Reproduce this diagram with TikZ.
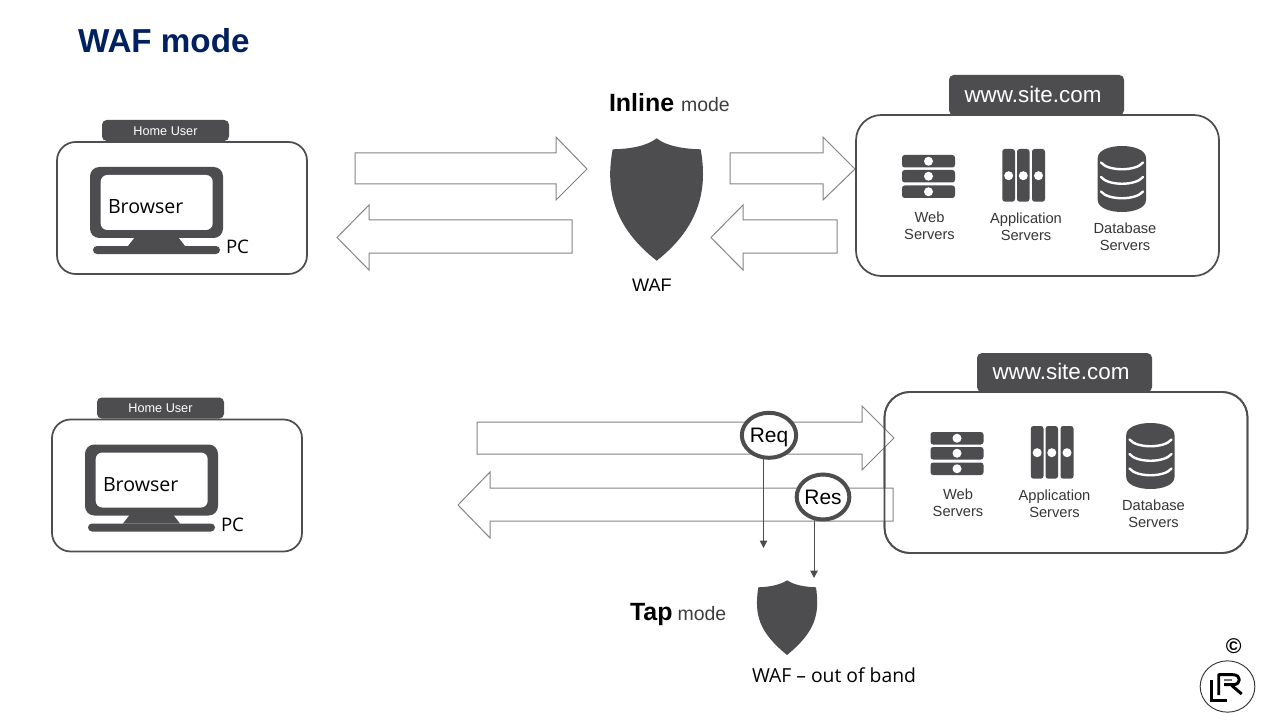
\documentclass[tikz,border=0pt]{standalone}
\usepackage{fontspec}
\setmainfont{Liberation Sans}
\newfontfamily\osans{Open Sans}
\usetikzlibrary{arrows.meta,shapes.geometric}
\definecolor{ink}{HTML}{4D4D4F}
\definecolor{blockedge}{HTML}{858585}
\definecolor{navy}{HTML}{002060}
\newcommand{\fs}[1]{\fontsize{#1}{#1}\selectfont}
\tikzset{
  x=0.75pt,y=-0.75pt,
  every node/.style={inner sep=0pt,outer sep=0pt},
  groupbox/.style={draw=ink,line width=1.3pt,fill=white,rounded corners=14pt},
  serverbox/.style={draw=ink,line width=1.3pt,rounded corners=19pt},
  tagbox/.style={fill=ink,rounded corners=3.5pt,anchor=center},
  blockarrow/.style={draw=blockedge,line width=0.75pt,fill=white,line join=miter},
  icontext/.style={align=center,font=\fontsize{11}{12.75}\selectfont,text=ink!70!black},
  lead/.style={draw=ink,line width=0.75pt,-{Triangle[length=5.5pt,width=5.5pt]}},
  tapcircle/.style={ellipse,draw=ink,fill=white,line width=3pt,minimum width=35.8pt,minimum height=33.75pt,font=\fs{15.7}},
  pcgroup/.pic={
    \draw[groupbox] (57,142) rectangle (307,274);
    \node[tagbox,minimum width=95.25pt,minimum height=15.75pt] (-tag) at (165.5,130.5) {};
    \node[font=\fs{9.5},text=white] (-tagtext) at (165.5,131) {Home User};
    \fill[ink,rounded corners=7pt] (90,167) rectangle (223,238);
    \fill[white,rounded corners=5pt] (100.7,175) rectangle (212.7,230);
    \fill[ink] (135,237) -- (178,237) -- (185,246) -- (128,246) -- cycle;
    \fill[ink,rounded corners=3pt] (93,246) rectangle (220,254);
    \node[anchor=west,font=\osans\fs{14.7}] (-browser) at (108,207) {Browser};
    \node[anchor=west,font=\osans\fs{14}] (-pc) at (226,247) {PC};
  },
  servergroup/.pic={
    \draw[groupbox,rounded corners=19pt] (856,115) rectangle (1219,276);
    \foreach \ya/\yb in {155/167.5,170/182.5,185.5/198}{
      \fill[ink,rounded corners=2pt] (902,\ya) rectangle (955,\yb);
      \fill[white] (928.5,{(\ya+\yb)/2}) circle (4.5);
    }
    \foreach \xa/\xb in {1002.3/1015,1017/1029.5,1032/1045}{
      \fill[ink,rounded corners=2pt] (\xa,149) rectangle (\xb,201.7);
      \fill[white] ({(\xa+\xb)/2},175.7) circle (4.5);
    }
    \fill[ink] (1097.7,158) .. controls (1097.7,150) and (1110,146) .. (1122,146)
      .. controls (1134,146) and (1146,150) .. (1146,158) -- (1146,200)
      .. controls (1146,208) and (1134,212) .. (1122,212)
      .. controls (1110,212) and (1097.7,208) .. (1097.7,200) -- cycle;
    \foreach \yy in {162.5,177,191.5}{
      \draw[white,line width=1.8pt,line cap=round] (1101,\yy) .. controls (1108,{\yy+9}) and (1136,{\yy+9}) .. (1143,\yy);
    }
    \node[icontext] (-web) at (929.5,225.5) {Web\\Servers};
    \node[icontext] (-app) at (1026,226.5) {Application\\Servers};
    \node[icontext] (-db) at (1125,236.5) {Database\\Servers};
  },
  shieldbig/.pic={
    \fill[ink] (656.7,138.3) .. controls (666,146) and (684,149) .. (700.7,149.3)
      .. controls (706,180) and (706,222) .. (656.7,260.7)
      .. controls (607,222) and (607,180) .. (612.7,149.3)
      .. controls (630,149) and (647,146) .. (656.7,138.3) -- cycle;
  },
  shieldsmall/.pic={
    \fill[ink] (787,580.3) .. controls (794,585) and (805,587) .. (816,587.3)
      .. controls (820,615) and (815,632) .. (787,655)
      .. controls (759,632) and (754,615) .. (758.3,587.3)
      .. controls (769,587) and (780,585) .. (787,580.3) -- cycle;
  },
}
\begin{document}
\begin{tikzpicture}
\useasboundingbox (0,0) rectangle (1280,720);
\fill[white] (0,0) rectangle (1280,720);
\node[anchor=west,text=navy,font=\bfseries\fs{24.9}] (title) at (78,40.5) {WAF mode};

% inline row
\draw[blockarrow] (355,153)--(556,153)--(556,137)--(587,169)--(556,200)--(556,184)--(355,184)--cycle;
\draw[blockarrow] (572,220)--(369,220)--(369,205)--(337,237.5)--(369,270)--(369,253)--(572,253)--cycle;
\draw[blockarrow] (730,153)--(823,153)--(823,137)--(855,169)--(823,200)--(823,184)--(730,184)--cycle;
\draw[blockarrow] (837,220)--(743,220)--(743,205)--(711,237.5)--(743,270)--(743,253)--(837,253)--cycle;
\pic (pc1) at (0,0) {pcgroup};
\pic (srv1) at (0,0) {servergroup};
\node[tagbox,minimum width=131.25pt,minimum height=30pt] (site1) at (1036.5,95) {};
\node[font=\fs{16.8},text=white] (site1text) at (1033,94) {www.site.com};
\pic at (0,0) {shieldbig};
\node[anchor=base west] (inline) at (609,112) {\bfseries\fs{18.7}Inline\ \fs{14.6}\mdseries\color{ink!80!black}mode};
\node[font=\fs{13.6}] (waf) at (652,285.5) {WAF};

% tap row
\pic (pc2) at (-5,277.5) {pcgroup};
\pic (srv2) at (28.5,277) {servergroup};
\draw[blockarrow] (477,422)--(862,422)--(862,406)--(894,438)--(862,470)--(862,454)--(477,454)--cycle;
\draw[blockarrow] (893,488)--(490,488)--(490,472)--(458,505)--(490,538)--(490,521)--(893,521)--cycle;
\begin{scope}[shift={(28.5,277)}]
\draw[serverbox] (856,115) rectangle (1219,276);
\end{scope}
\node[tagbox,minimum width=131.25pt,minimum height=29pt] (site2) at (1064.5,372.5) {};
\node[font=\fs{16.8},text=white] (site2text) at (1061,371) {www.site.com};
\node[tapcircle,text depth=0pt] (req) at (769,435.3) {Req};
\node[tapcircle] (res) at (823,497) {Res};
\coordinate (reqend) at (763.3,548);
\coordinate (resend) at (813.3,578);
\draw[lead] (req.-104) -- (req.-104 |- reqend);
\draw[lead] (res.-113) -- (res.-113 |- resend);
\pic at (0,0) {shieldsmall};
\node[anchor=base west] (tap) at (630,620) {\bfseries\fs{18.7}Tap\hspace{3.8pt}\fs{14.6}\mdseries\color{ink!80!black}mode};
\node[anchor=west,font=\osans\fs{14.5}] (wafout) at (752,675) {WAF – out of band};

% logo
\node[font=\bfseries\fs{16}] (copyr) at (1233.7,646) {©};
\node[ellipse,draw=black!80,line width=0.7pt,minimum width=41pt,minimum height=38.5pt] (logo) at (1227.5,686.5) {};
\draw[black,line width=2.2pt,line join=miter] (1211.7,680) -- (1211.7,700.3) -- (1226.7,700.3);
\draw[black,line width=2.2pt,line join=round] (1218.7,695) -- (1218.7,674.7) -- (1233,674.7) .. controls (1241.5,674.7) and (1241.5,684.7) .. (1233,684.7) -- (1224,684.7);
\draw[black,line width=2.2pt] (1231.7,685.5) -- (1241.7,694);
\draw[black!55,line width=1pt] (1224,680) -- (1232,680);
\end{tikzpicture}
\end{document}
